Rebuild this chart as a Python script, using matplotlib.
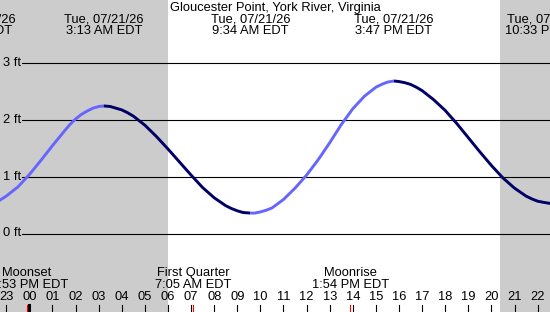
import matplotlib
matplotlib.use("Agg")
import matplotlib.pyplot as plt
import matplotlib.transforms as mtransforms
import numpy as np

plt.rcParams["font.family"] = ["Liberation Sans", "DejaVu Sans"]

# tide curve, hours after midnight Tue 07/21/26 -> height in ft
tide_hours = [-2.0, -1.5, -1.0, -0.5, 0.0, 0.5, 1.0, 1.5, 1.75, 2.0, 2.25, 2.5, 2.75,
              3.0, 3.22, 3.5, 3.75, 4.0, 4.25, 4.5, 5.0, 5.5, 6.0, 6.5, 7.0, 7.5,
              8.0, 8.5, 8.75, 9.0, 9.25, 9.57, 9.75, 10.0, 10.25, 10.5, 11.0, 11.5,
              12.0, 12.5, 13.0, 13.5, 14.0, 14.5, 15.0, 15.25, 15.5, 15.78, 16.0,
              16.25, 16.5, 16.75, 17.0, 17.5, 18.0, 18.5, 19.0, 19.5, 20.0, 20.5,
              21.0, 21.5, 21.75, 22.0, 22.25, 22.55, 23.0]
tide_ft = [0.48, 0.53, 0.66, 0.82, 1.04, 1.29, 1.55, 1.80, 1.92, 2.02, 2.10, 2.16, 2.21,
           2.24, 2.25, 2.24, 2.21, 2.18, 2.13, 2.07, 1.91, 1.71, 1.49, 1.26, 1.03, 0.81,
           0.63, 0.49, 0.44, 0.40, 0.37, 0.36, 0.36, 0.38, 0.41, 0.45, 0.60, 0.80,
           1.03, 1.30, 1.60, 1.92, 2.20, 2.42, 2.58, 2.63, 2.67, 2.69, 2.68,
           2.66, 2.63, 2.58, 2.52, 2.36, 2.17, 1.94, 1.69, 1.44, 1.20, 0.98,
           0.80, 0.66, 0.61, 0.57, 0.55, 0.53, 0.55]
turn_hours = [3.22, 9.57, 15.78, 22.55]

# high / low tide labels
label_hours = [-2.40, 3.22, 9.57, 15.78, 22.4]
label_dates = ["Mon, 07/20/26", "Tue, 07/21/26", "Tue, 07/21/26",
               "Tue, 07/21/26", "Tue, 07/21/26"]
label_times = ["9:31 PM EDT", "3:13 AM EDT", "9:34 AM EDT",
               "3:47 PM EDT", "10:33 PM EDT"]

# moon events
moon_hours = [-0.117, 7.083, 13.9]
moon_names = ["Moonset", "First Quarter", "Moonrise"]
moon_times = ["11:53 PM EDT", "7:05 AM EDT", "1:54 PM EDT"]

sunrise = 6.02
sunset = 20.37
ft_levels = [0, 1, 2, 3]
hour_ticks = list(range(-1, 23))

W, H = 550, 312
FS = 9.3
fig = plt.figure(figsize=(W / 100, H / 100), dpi=100)
ax = fig.add_axes([0, 0, 1, 1])
ax.set_axis_off()

# pixel geometry of the original
x0_px, px_per_h = 29.4, 23.1
y0_px, px_per_ft = 233.5, 56.7
ax.set_xlim(-x0_px / px_per_h, (W - x0_px) / px_per_h)
ax.set_ylim((y0_px - H) / px_per_ft, y0_px / px_per_ft)

xmin, xmax = ax.get_xlim()
ax.axvspan(xmin, sunrise, color="#cccccc", lw=0, zorder=0)
ax.axvspan(sunset, xmax, color="#cccccc", lw=0, zorder=0)

ytrans = mtransforms.blended_transform_factory(ax.transAxes, ax.transData)
for lev in ft_levels:
    ax.axhline(lev, xmin=22 / W, xmax=1, color="black", lw=0.8, zorder=1)
    ax.text(3 / W, lev, f"{lev} ft", transform=ytrans, ha="left", va="center", fontsize=FS)

# tide curve: rising light blue, falling dark navy
t = np.array(tide_hours)
h = np.array(tide_ft)
cuts = [0] + [int(np.argmin(abs(t - e))) for e in turn_hours if t[0] < e < t[-1]] + [len(t) - 1]
for a, b in zip(cuts[:-1], cuts[1:]):
    col = "#6666ff" if h[b] > h[a] else "#000066"
    ax.plot(t[a:b + 1], h[a:b + 1], color=col, lw=2.1, solid_capstyle="butt",
            solid_joinstyle="round", zorder=3)

trans = mtransforms.blended_transform_factory(ax.transData, ax.transAxes)


def ypx(p):
    return 1 - p / H


ax.text(0.5, ypx(7.5), "Gloucester Point, York River, Virginia", transform=ax.transAxes,
        ha="center", va="center", fontsize=FS)
for xh, d, tm in zip(label_hours, label_dates, label_times):
    ax.text(xh, ypx(19), d, transform=trans, ha="center", va="center", fontsize=FS)
    ax.text(xh, ypx(31), tm, transform=trans, ha="center", va="center", fontsize=FS)

for xh, n, tm in zip(moon_hours, moon_names, moon_times):
    ax.text(xh, ypx(273), n, transform=trans, ha="center", va="center", fontsize=FS)
    ax.text(xh, ypx(285), tm, transform=trans, ha="center", va="center", fontsize=FS)
    ax.plot([xh, xh], [ypx(305), ypx(312)], transform=trans, color="red", lw=0.8, zorder=4)

for hr in hour_ticks:
    ax.text(hr, ypx(297), f"{hr % 24:02d}", transform=trans, ha="center", va="center", fontsize=FS)
    ax.plot([hr, hr], [ypx(305), ypx(312)], transform=trans, color="black",
            lw=2.2 if hr == 0 else 0.8, zorder=3)

fig.savefig("out.png", dpi=100)
